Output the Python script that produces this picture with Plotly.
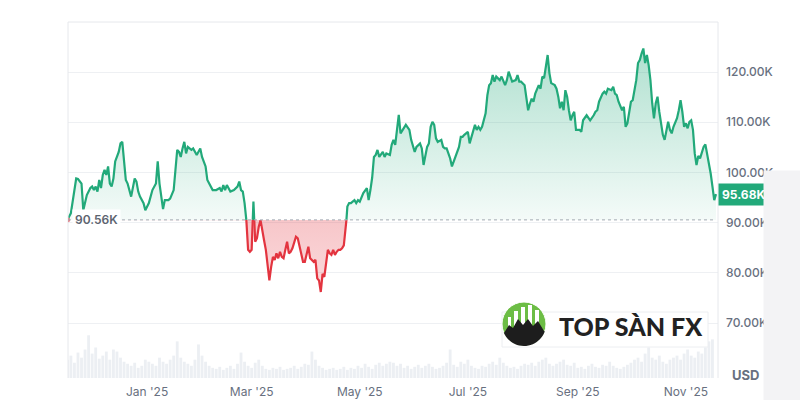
import numpy as np
import pandas as pd
import plotly.graph_objects as go

# ---------------- data (price in thousands USD) ----------------
d_2024_11 = [17, 19, 22, 23, 25, 26, 28, 30]
p_2024_11 = [90.56, 91.9, 98.8, 98.7, 97.8, 92.5, 95.5, 96.9]
d_2024_12 = [1, 2, 3, 4, 5, 6, 7, 8, 9, 10, 11, 12, 13, 14, 16, 17, 18, 19, 20, 21, 22, 23, 25, 26, 27, 28, 30, 31]
p_2024_12 = [97.2, 96.5, 97.2, 96.2, 98.5, 96.9, 99.5, 100.5, 99.5, 101.2, 97.8, 97.2, 98.8, 102.2, 104.1, 105.8,
             106.1, 102.5, 98.5, 97.8, 96.2, 95.2, 98.8, 98.2, 96.2, 95.2, 93.9, 92.5]
d_2025_01 = [2, 3, 4, 6, 7, 8, 9, 10, 11, 13, 14, 16, 17, 18, 19, 20, 21, 22, 23, 24, 26, 27, 29, 31]
p_2025_01 = [93.9, 95.2, 96.5, 97.8, 102.2, 97.8, 95.2, 92.7, 94.5, 94.5, 94.8, 96.5, 100.5, 104.5, 104.1, 103.1,
             104.8, 106.1, 103.8, 105.1, 104.5, 104.8, 103.5, 104.8]
d_2025_02 = [1, 3, 4, 5, 6, 7, 9, 11, 12, 13, 14, 15, 17, 19, 21, 22, 23, 24, 25, 26, 27, 28]
p_2025_02 = [103.1, 101.2, 98.5, 97.8, 97.2, 96.5, 96.5, 96.9, 96.2, 97.5, 96.5, 97.5, 96.2, 96.5, 97.2, 98.2,
             96.5, 96.2, 93.9, 90.5, 84.6, 84.2]
d_2025_03 = list(range(1, 32))
p_2025_03 = [84.6, 94.2, 86.2, 86.9, 89.2, 90.5, 88.2, 86.5, 84.6, 81.2, 78.5, 81.2, 83.2, 82.6, 83.9, 82.9,
             84.2, 83.2, 82.9, 84.6, 86.2, 83.9, 84.2, 84.9, 86.2, 87.2, 86.9, 85.2, 83.2, 82.2, 82.2]
d_2025_04 = list(range(1, 31))
p_2025_04 = [83.9, 85.2, 82.9, 82.6, 82.2, 82.6, 78.9, 78.5, 76.2, 79.8, 79.2, 81.9, 84.6, 83.9, 83.6, 84.6,
             83.6, 84.2, 84.6, 84.6, 84.9, 85.5, 88.2, 93.2, 93.9, 93.9, 94.2, 94.5, 93.9, 94.5]
d_2025_05 = [1, 3, 5, 6, 7, 8, 9, 10, 11, 12, 14, 15, 16, 18, 19, 20, 21, 22, 23, 24, 26, 27, 29, 30]
p_2025_05 = [94.2, 95.9, 96.9, 94.5, 96.5, 99.0, 103.1, 103.5, 104.5, 103.1, 104.1, 103.1, 103.8, 103.5, 105.5,
             106.5, 105.5, 108.5, 111.5, 107.8, 108.8, 109.5, 108.5, 106.5]
d_2025_06 = [1, 2, 4, 5, 6, 8, 9, 10, 11, 12, 13, 14, 16, 17, 18, 19, 20, 21, 22, 24, 26, 27, 28, 29]
p_2025_06 = [104.1, 105.1, 105.8, 104.8, 101.5, 105.1, 105.8, 109.1, 110.1, 109.5, 106.8, 106.1, 106.5, 105.1,
             104.8, 104.8, 103.8, 102.8, 101.2, 103.1, 105.1, 107.1, 107.1, 107.5]
d_2025_07 = [1, 2, 4, 5, 6, 7, 8, 9, 11, 12, 13, 14, 15, 16, 17, 19, 20, 21, 22, 23, 24, 25, 26, 28, 29, 30, 31]
p_2025_07 = [108.1, 105.8, 108.5, 109.5, 108.5, 109.1, 108.5, 109.1, 111.8, 115.4, 117.4, 117.8, 119.4, 118.1,
             119.1, 118.4, 119.1, 118.1, 117.4, 118.4, 120.1, 119.1, 118.1, 118.4, 119.4, 118.1, 118.1]
d_2025_08 = [2, 3, 4, 5, 6, 7, 8, 10, 11, 12, 13, 14, 15, 16, 17, 19, 20, 21, 22, 23, 24, 25, 26, 27, 28, 29, 30, 31]
p_2025_08 = [117.4, 115.1, 112.4, 113.7, 114.7, 114.1, 115.7, 117.4, 116.7, 119.1, 118.8, 121.1, 123.4, 119.8,
             117.8, 117.4, 116.7, 115.1, 112.8, 114.1, 112.4, 116.4, 115.1, 112.4, 110.4, 111.4, 112.1, 108.5]
d_2025_09 = [2, 3, 4, 6, 7, 8, 10, 11, 12, 13, 15, 16, 17, 18, 20, 21, 22, 23, 24, 26, 27, 28, 29, 30]
p_2025_09 = [108.5, 108.1, 110.4, 111.4, 110.8, 110.4, 111.4, 112.1, 112.4, 114.1, 115.7, 116.1, 115.7, 116.7,
             116.4, 117.1, 115.7, 115.4, 114.1, 112.4, 113.1, 109.1, 109.8, 112.5]
d_2025_10 = [1, 2] + list(range(4, 32))
p_2025_10 = [114.1, 114.4, 118.4, 121.8, 122.4, 123.7, 124.7, 121.8, 123.4, 121.4, 118.4, 113.8, 110.8, 113.8,
             115.1, 112.1, 109.8, 107.5, 106.5, 108.5, 110.1, 108.5, 107.8, 109.1, 110.1, 110.8, 112.4, 114.4,
             112.1, 109.1]
d_2025_11 = list(range(1, 19))
p_2025_11 = [109.8, 108.8, 110.1, 110.4, 108.5, 103.8, 101.5, 103.3, 102.8, 104.2, 105.1, 105.6, 103.8, 101.8,
             99.8, 97.2, 94.5, 95.68]

# relative volume, one value per 2 days starting 2024-11-17
volume_start = "2024-11-17"
volume_2d = [18, 22, 15, 25, 20, 28, 42, 24, 30, 19, 22, 26, 18, 28, 26, 20, 16,
             14, 12, 15, 10, 12, 18, 16, 14, 12, 20, 16, 14, 18, 22, 36, 20, 16, 14, 12, 18, 33, 22,
             16, 12, 10, 9, 11, 8, 10, 12, 9, 14, 25, 16, 12, 10, 15, 18, 12, 9, 8, 10, 9, 11, 8, 9, 10,
             12, 9, 11, 14, 13, 26,
             18, 12, 10, 8, 9, 10, 8, 9, 11, 8, 10, 9, 12, 10, 14, 11, 9, 13, 15, 12, 14, 16, 15,
             12, 14, 10, 12, 9, 11, 13, 10, 12, 14, 11, 9, 10, 12, 15, 28, 13, 11, 16, 14, 18, 12, 10, 9,
             12, 11, 14, 16, 13, 20, 15, 12, 10, 11, 9, 12, 14, 13, 15, 12, 16, 18, 20, 14, 12,
             14, 16, 18, 13, 12, 15, 10, 11, 9, 12, 14, 11, 10, 13, 12, 16, 12, 10, 9, 11, 13, 15, 18, 20,
             16, 24, 30, 20, 18, 22, 16, 14, 18, 20, 22, 18, 24, 28, 22, 20, 26, 24, 30, 36, 38]

base_price = 90.56
last_price = 95.68
y_ticks = [70, 80, 90, 100, 110, 120]
y_tick_labels = ["70.00K", "80.00K", "90.00K", "100.00K", "110.00K", "120.00K"]
x_ticks = ["2025-01-01", "2025-03-01", "2025-05-01", "2025-07-01", "2025-09-01", "2025-11-01"]
x_tick_labels = ["Jan '25", "Mar '25", "May '25", "Jul '25", "Sep '25", "Nov '25"]

# ---------------- assemble ----------------
months = [("2024-11", d_2024_11, p_2024_11), ("2024-12", d_2024_12, p_2024_12),
          ("2025-01", d_2025_01, p_2025_01), ("2025-02", d_2025_02, p_2025_02),
          ("2025-03", d_2025_03, p_2025_03), ("2025-04", d_2025_04, p_2025_04),
          ("2025-05", d_2025_05, p_2025_05), ("2025-06", d_2025_06, p_2025_06),
          ("2025-07", d_2025_07, p_2025_07), ("2025-08", d_2025_08, p_2025_08),
          ("2025-09", d_2025_09, p_2025_09), ("2025-10", d_2025_10, p_2025_10),
          ("2025-11", d_2025_11, p_2025_11)]
dates, prices = [], []
for ym, ds, ps in months:
    assert len(ds) == len(ps), ym
    for d, p in zip(ds, ps):
        dates.append(f"{ym}-{d:02d}")
        prices.append(p)

vol_dates = pd.date_range(volume_start, periods=len(volume_2d), freq="2D")

# insert baseline crossing points so the two colours meet exactly at the baseline
t_ms = pd.to_datetime(dates).values.astype("datetime64[ms]").astype("int64").astype(float)
ax, ay = [t_ms[0]], [prices[0]]
for i in range(1, len(prices)):
    y0, y1 = prices[i - 1], prices[i]
    if (y0 - base_price) * (y1 - base_price) < 0:
        f = (base_price - y0) / (y1 - y0)
        ax.append(t_ms[i - 1] + f * (t_ms[i] - t_ms[i - 1]))
        ay.append(base_price)
    ax.append(t_ms[i])
    ay.append(y1)
ax_dt = pd.to_datetime(np.array(ax), unit="ms")
ay = np.array(ay)
above = np.maximum(ay, base_price)
below = np.minimum(ay, base_price)
green_line = [v if v >= base_price else None for v in ay]
red_line = [v if v <= base_price else None for v in ay]

GREEN = "#22a97a"
RED = "#e3343f"
GREY_TXT = "#687080"
FONT = "Inter"

fig = go.Figure()
fig.add_trace(go.Bar(x=vol_dates, y=volume_2d, yaxis="y2", marker=dict(color="#eceff3", line_width=0),
                     width=2 * 86400000 * 0.8, hoverinfo="skip"))
fig.add_trace(go.Scatter(x=ax_dt, y=[base_price] * len(ax_dt), mode="lines", line=dict(width=0),
                         hoverinfo="skip"))
fig.add_trace(go.Scatter(x=ax_dt, y=above, mode="lines", line=dict(width=0), fill="tonexty",
                         fillgradient=dict(type="vertical", start=base_price, stop=125,
                                           colorscale=[[0, "rgba(34,169,122,0.05)"],
                                                       [1, "rgba(34,169,122,0.36)"]]),
                         hoverinfo="skip"))
fig.add_trace(go.Scatter(x=ax_dt, y=[base_price] * len(ax_dt), mode="lines", line=dict(width=0),
                         hoverinfo="skip"))
fig.add_trace(go.Scatter(x=ax_dt, y=below, mode="lines", line=dict(width=0), fill="tonexty",
                         fillgradient=dict(type="vertical", start=76, stop=base_price,
                                           colorscale=[[0, "rgba(227,52,63,0.18)"],
                                                       [1, "rgba(227,52,63,0.28)"]]),
                         hoverinfo="skip"))
fig.add_trace(go.Scatter(x=ax_dt, y=green_line, mode="lines", line=dict(color=GREEN, width=2.2),
                         connectgaps=False))
fig.add_trace(go.Scatter(x=ax_dt, y=red_line, mode="lines", line=dict(color=RED, width=2.2),
                         connectgaps=False))
fig.add_trace(go.Scatter(x=[dates[0]], y=[base_price], mode="markers",
                         marker=dict(color=RED, size=5)))

# ---------------- layout helpers (pixel -> paper) ----------------
L, R, T, B = 68, 718, 22, 378


def px(x):
    return (x - L) / (R - L)


def py(y):
    return (B - y) / (B - T)


shapes = [
    dict(type="line", xref="paper", yref="paper", x0=0, x1=1, y0=1, y1=1, line=dict(color="#e6e8ec", width=1)),
    dict(type="line", xref="paper", yref="paper", x0=0, x1=0, y0=0, y1=1, line=dict(color="#e6e8ec", width=1)),
    dict(type="line", xref="paper", yref="paper", x0=1, x1=1, y0=0, y1=1, line=dict(color="#e6e8ec", width=1)),
    dict(type="line", xref="paper", yref="y", x0=0, x1=0.995, y0=base_price, y1=base_price,
         line=dict(color="#a3a9b3", width=1, dash="dot")),
    # logo plate
    dict(type="rect", xref="paper", yref="paper", x0=px(502), x1=px(708), y0=py(347), y1=py(312),
         fillcolor="white", line=dict(color="#eceef1", width=1), layer="above"),
    dict(type="circle", xref="paper", yref="paper", x0=px(502), x1=px(546), y0=py(346), y1=py(302),
         fillcolor="#6cbd45", line=dict(color="white", width=1), layer="above"),
]
for x0, x1, top in [(508, 511, 317), (514, 518, 311), (521, 525, 307), (528, 532, 305), (535, 539, 310)]:
    shapes.append(dict(type="rect", xref="paper", yref="paper", x0=px(x0), x1=px(x1), y0=py(327), y1=py(top),
                       fillcolor="white", line=dict(width=0), layer="above"))
cx, cy, rr = 524, 324, 22
ridge = [(504, 333), (509, 325), (513, 328), (518, 319), (523, 325), (528, 319), (533, 326), (538, 321), (544, 331)]
a_end = np.arctan2(ridge[-1][1] - cy, ridge[-1][0] - cx)
a_start = np.arctan2(ridge[0][1] - cy, ridge[0][0] - cx)
arc = [(cx + rr * np.cos(a), cy + rr * np.sin(a)) for a in np.linspace(a_end, a_start, 24)]
pts = ridge + arc
path = "M " + " L ".join(f"{px(x):.5f},{py(y):.5f}" for x, y in pts) + " Z"
shapes.append(dict(type="path", xref="paper", yref="paper", path=path, fillcolor="#1d1d1d",
                   line=dict(width=0), layer="above"))

annotations = [
    dict(xref="paper", yref="y", x=px(72), y=base_price, xanchor="left", yanchor="middle",
         text="90.56K", showarrow=False, bgcolor="white", borderpad=2,
         font=dict(family=FONT, size=12, color="#5d6470", weight=600)),
    dict(xref="paper", yref="y", x=1, y=last_price, xanchor="left", yanchor="middle",
         text="95.68K", showarrow=False, bgcolor=GREEN, borderpad=3,
         font=dict(family=FONT, size=12, color="white", weight=700)),
    dict(xref="paper", yref="paper", x=px(745), y=py(375), xanchor="center", yanchor="middle",
         text="USD", showarrow=False, font=dict(family=FONT, size=13, color=GREY_TXT, weight=700)),
    dict(xref="paper", yref="paper", x=px(631), y=py(326), xanchor="center", yanchor="middle",
         text="TOP SÀN FX", showarrow=False,
         font=dict(family="Lato", size=25, color="#222222", weight=900)),
    # grey panel at the right edge of the screenshot
    dict(xref="paper", yref="paper", x=px(763), y=py(170), xanchor="left", yanchor="top",
         text=" ", showarrow=False, width=40, height=232, bgcolor="#f3f3f5", borderpad=0),
]

fig.update_layout(
    width=800, height=400,
    margin=dict(l=L, r=800 - R, t=T, b=400 - B),
    paper_bgcolor="white", plot_bgcolor="white", showlegend=False,
    xaxis=dict(type="date", range=["2024-11-17 09:00", "2025-11-19 03:00"], tickvals=x_ticks,
               ticktext=x_tick_labels, showgrid=False, zeroline=False, showline=False, ticks="",
               tickfont=dict(family=FONT, size=12, color=GREY_TXT), ticklabelstandoff=5,
               automargin=False, fixedrange=True),
    yaxis=dict(side="right", range=[59.06, 129.98], tickvals=y_ticks, ticktext=y_tick_labels,
               showgrid=True, gridcolor="#eef0f3", gridwidth=1, zeroline=False, showline=False, ticks="",
               tickfont=dict(family=FONT, size=12, color=GREY_TXT, weight=500), ticklabelstandoff=7,
               automargin=False, fixedrange=True),
    yaxis2=dict(overlaying="y", range=[0, max(volume_2d) / 0.12], visible=False, fixedrange=True),
    shapes=shapes, annotations=annotations,
)

fig.write_html("out.html", config={"displayModeBar": False},
               post_script="document.body.style.margin='0';document.body.style.overflow='hidden';")
